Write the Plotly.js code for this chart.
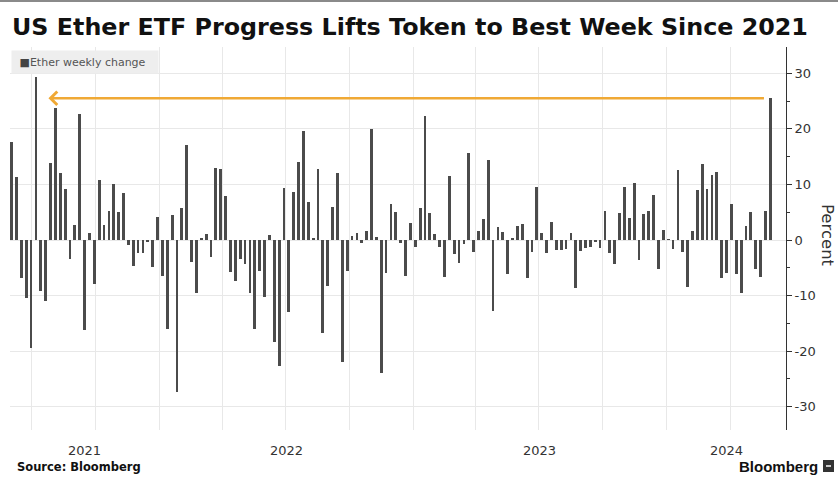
<!DOCTYPE html>
<html>
<head>
<meta charset="utf-8">
<script src="https://cdn.plot.ly/plotly-3.0.1.min.js"></script>
<style>
  html, body { margin: 0; padding: 0; background: #ffffff; }
  #chart { width: 838px; height: 486px; }
</style>
</head>
<body>
<div id="chart"></div>
<script>
// ---------------- data ----------------
const titleText = 'US Ether ETF Progress Lifts Token to Best Week Since 2021';
const seriesName = 'Ether weekly change';
const sourceText = 'Source: Bloomberg';
const brandText = 'Bloomberg';
const yAxisTitle = 'Percent';
const firstWeek = '2021-06-02';           // first weekly bar
const yearLabels = [2021, 2022, 2023, 2024];
const yTickValues = [-30, -20, -10, 0, 10, 20, 30];

// weekly % change of Ether
const weeklyChange = [
  17.7, 11.3, -6.9, -10.5, -19.5, 29.4, -9.2, -10.9, 13.9, 23.8,
  12.0, 9.1, -3.4, 2.7, 22.6, -16.2, 1.3, -8.0, 10.8, 2.7,
  5.3, 10.1, 5.0, 8.5, -0.9, -4.7, -2.4, -2.4, -0.3, -4.8,
  4.1, -6.5, -16.1, 4.5, -27.3, 5.7, 17.1, -3.9, -9.5, 0.2,
  1.1, -3.1, 13.0, 12.7, 7.9, -5.8, -7.4, -3.4, -4.3, -9.6,
  -16.1, -5.5, -10.3, 0.9, -18.3, -22.7, 9.4, -13.0, 8.7, 14.1,
  19.7, 6.9, 0.2, 12.7, -16.7, -8.3, 6.0, 12.0, -22.0, -5.6,
  0.7, 1.3, -0.6, 1.6, 20.0, 0.5, -24.0, -6.0, 6.5, 5.1,
  -0.6, -6.5, 3.1, -1.2, 5.7, 22.3, 4.9, 1.1, -1.2, -6.7,
  11.6, -2.5, -4.1, -0.8, 15.6, -2.1, 1.6, 3.8, 14.4, -12.7,
  2.4, 1.4, -6.1, 0.3, 2.6, 2.8, -6.9, -2.2, 9.5, 1.3,
  -2.4, 3.3, -1.8, -1.8, -1.7, 1.3, -8.7, -1.9, -1.5, -1.3,
  -0.2, -1.5, 5.3, -2.3, -4.3, 4.9, 9.6, 4.0, 10.3, -3.6,
  4.6, 5.2, 8.1, -5.2, 1.8, 0.1, -1.7, 12.6, -2.2, -8.4,
  1.6, 9.0, 13.7, 9.2, 11.7, 12.3, -6.9, -5.9, 6.5, -6.2,
  -9.6, 2.5, 5.1, -5.2, -6.7, 5.2, 25.5
];

// ---------------- helpers ----------------
const DAY = 86400000;
const toStr = ms => new Date(ms).toISOString().replace('T', ' ').slice(0, 19);
const startMs = Date.parse(firstWeek + 'T00:00:00Z');
const weekDates = weeklyChange.map((_, i) => toStr(startMs + i * 7 * DAY));

const xRange = ['2021-05-30 16:00:00', '2024-06-20 14:00:00'];
const r0 = Date.parse(xRange[0].replace(' ', 'T') + 'Z');
const r1 = Date.parse(xRange[1].replace(' ', 'T') + 'Z');

// quarterly gridlines
const quarterTicks = [];
for (let y = yearLabels[0]; y <= yearLabels[yearLabels.length - 1]; y++) {
  for (const m of [0, 3, 6, 9]) {
    const t = Date.UTC(y, m, 1);
    if (t > r0 && t < r1) quarterTicks.push(toStr(t));
  }
}

// plot-area geometry in pixels (for paper refs)
const W = 838, H = 486;
const M = { l: 10, r: 52, t: 47, b: 56 };
const pw = W - M.l - M.r, ph = H - M.t - M.b;
const px = x => (x - M.l) / pw;
const py = y => (H - M.b - y) / ph;

const annotations = [];

// year labels centred under the visible part of each year
yearLabels.forEach(y => {
  const a = Math.max(r0, Date.UTC(y, 0, 1));
  const b = Math.min(r1, Date.UTC(y + 1, 0, 1));
  annotations.push({
    xref: 'x', yref: 'paper', x: toStr((a + b) / 2), y: py(450),
    text: String(y), showarrow: false, xanchor: 'center', yanchor: 'middle',
    font: { family: 'DejaVu Sans', size: 13, color: '#333333' }
  });
});

// arrow from latest week back to the 2021 peak
const lastIdx = weeklyChange.length - 1;
let peakIdx = 0;
for (let i = 0; i < lastIdx; i++) if (weeklyChange[i] > weeklyChange[peakIdx]) peakIdx = i;
annotations.push({
  xref: 'x', yref: 'y', axref: 'x', ayref: 'y',
  x: toStr(startMs + peakIdx * 7 * DAY + 18 * DAY), y: weeklyChange[lastIdx],
  ax: toStr(startMs + lastIdx * 7 * DAY - 7 * DAY), ay: weeklyChange[lastIdx],
  text: '', showarrow: true, arrowhead: 4, arrowsize: 1, arrowwidth: 2.6,
  arrowcolor: '#f0a935', standoff: 0, startstandoff: 0
});

// legend box
annotations.push({
  xref: 'paper', yref: 'paper', x: px(11), y: py(50), xanchor: 'left', yanchor: 'top',
  text: '&nbsp;<span style="color:#444">■</span>' + seriesName, showarrow: false,
  align: 'left', width: 138, height: 14, borderpad: 4, bgcolor: '#eeeeee',
  font: { family: 'DejaVu Sans', size: 11, color: '#555555' }
});

// y-axis title on the right
annotations.push({
  xref: 'paper', yref: 'paper', x: px(828), y: py(235), textangle: 90,
  text: yAxisTitle, showarrow: false, xanchor: 'center', yanchor: 'middle',
  font: { family: 'DejaVu Sans', size: 16.5, color: '#333333' }
});

// footer
annotations.push({
  xref: 'paper', yref: 'paper', x: px(15), y: py(467), xanchor: 'left', yanchor: 'middle',
  text: '<b>' + sourceText + '</b>', showarrow: false,
  font: { family: 'DejaVu Sans', size: 11.5, color: '#111111' }
});
annotations.push({
  xref: 'paper', yref: 'paper', x: px(820), y: py(466), xanchor: 'right', yanchor: 'middle',
  text: '<b>' + brandText + '</b>', showarrow: false,
  font: { family: 'Liberation Sans', size: 15, color: '#111111' }
});

const shapes = [
  { type: 'rect', xref: 'paper', yref: 'paper', x0: px(823), x1: px(834), y0: py(472), y1: py(460),
    fillcolor: '#333333', line: { width: 0 } },
  { type: 'line', xref: 'paper', yref: 'paper', x0: px(826), x1: px(831), y0: py(466), y1: py(466),
    line: { color: '#ffffff', width: 1.5 } },
  { type: 'line', xref: 'paper', yref: 'paper', x0: px(0), x1: px(838), y0: py(1), y1: py(1),
    line: { color: '#8a8a8a', width: 2 } }
];

const minorVals = [];
for (let i = 0; i < yTickValues.length - 1; i++) minorVals.push((yTickValues[i] + yTickValues[i + 1]) / 2);

const trace = {
  type: 'bar', name: seriesName, x: weekDates, y: weeklyChange,
  width: 4 * DAY,
  marker: { color: '#4b4b4b', line: { width: 0 } },
  hoverinfo: 'x+y'
};

const layout = {
  width: W, height: H,
  margin: { l: M.l, r: M.r, t: M.t, b: M.b, pad: 0 },
  paper_bgcolor: '#ffffff', plot_bgcolor: '#ffffff',
  showlegend: false,
  title: {
    text: '<b>' + titleText + '</b>',
    xref: 'container', yref: 'container', x: 12 / W, xanchor: 'left',
    y: 1 - 27 / H, yanchor: 'middle',
    font: { family: 'DejaVu Sans', size: 23.8, color: '#111111' }
  },
  xaxis: {
    type: 'date', range: xRange, tickmode: 'array', tickvals: quarterTicks,
    showticklabels: false, ticks: '', showgrid: true, gridcolor: '#e8e8e8', gridwidth: 1,
    zeroline: false, showline: false, fixedrange: true
  },
  yaxis: {
    side: 'right', range: [-34.19, 34.73],
    tickmode: 'array', tickvals: yTickValues, ticktext: yTickValues.map(v => String(v)),
    showline: true, linecolor: '#333333', linewidth: 1,
    ticks: 'outside', ticklen: 5, tickwidth: 1, tickcolor: '#333333',
    minor: { tickmode: 'array', tickvals: minorVals, ticks: 'outside', ticklen: 3, tickcolor: '#333333', showgrid: false },
    showgrid: true, gridcolor: '#e8e8e8', gridwidth: 1, zeroline: false,
    tickfont: { family: 'DejaVu Sans', size: 13, color: '#333333' },
    fixedrange: true
  },
  bargap: 0,
  annotations: annotations,
  shapes: shapes
};

Plotly.newPlot('chart', [trace], layout, { displayModeBar: false, responsive: false });
</script>
</body>
</html>
